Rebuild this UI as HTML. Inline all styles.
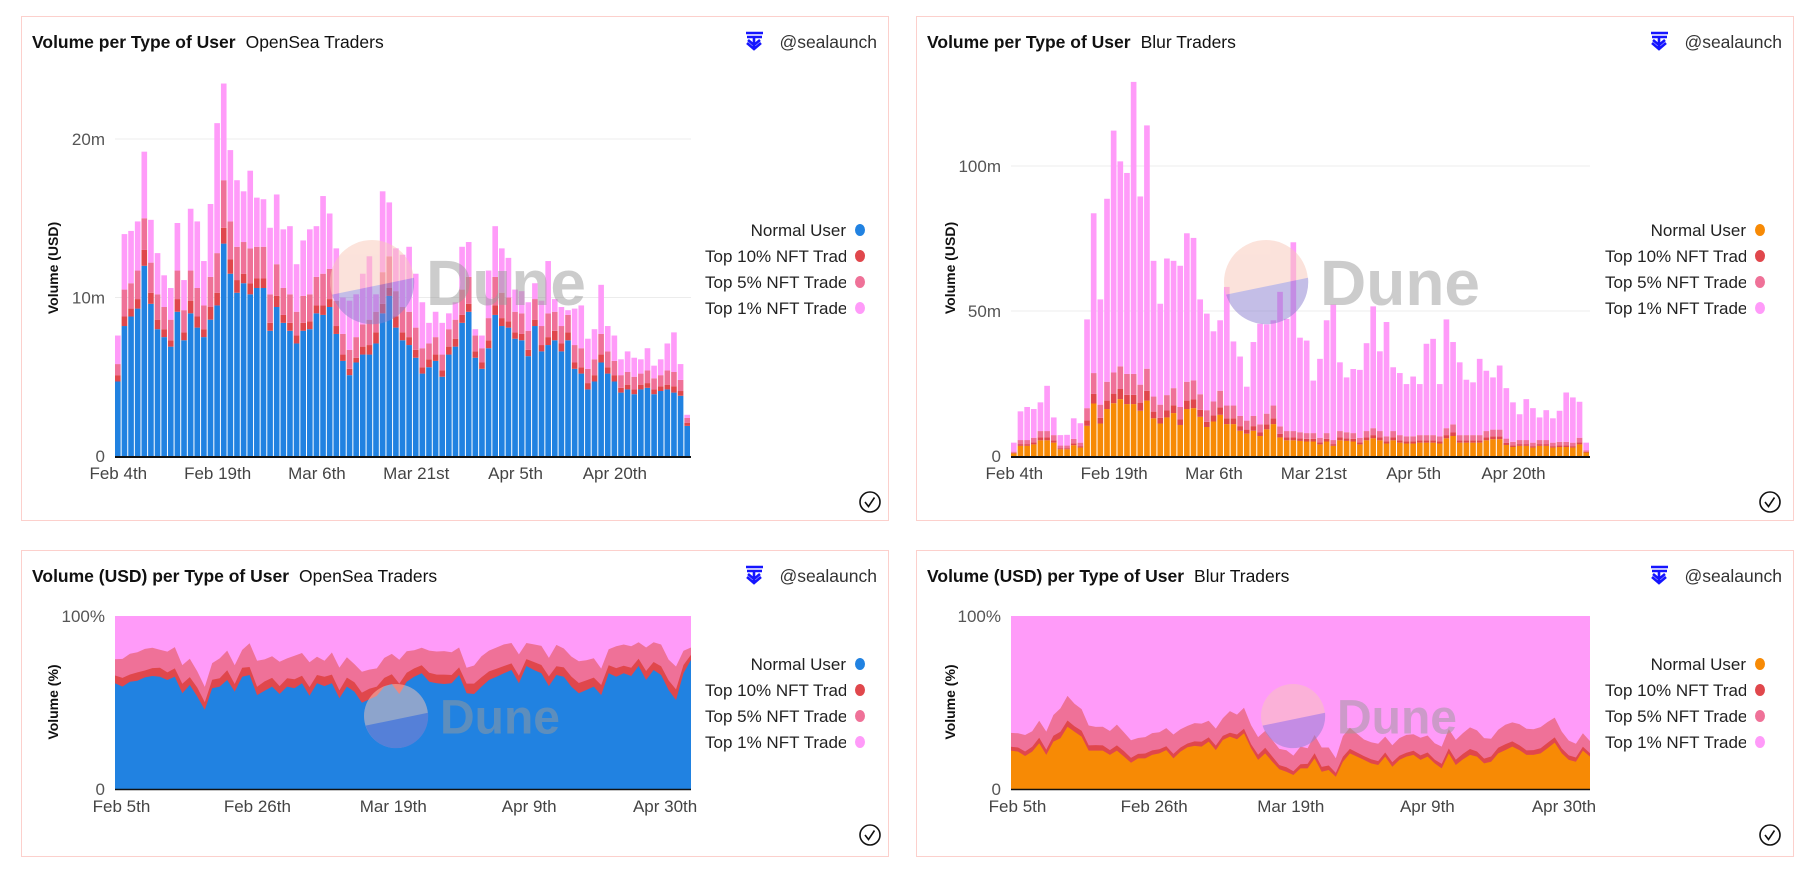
<!DOCTYPE html>
<html><head><meta charset="utf-8">
<style>
html,body{margin:0;padding:0;background:#fff;}
svg{display:block;font-family:"Liberation Sans",sans-serif;}
</style></head>
<body>
<svg id="root" width="1794" height="870" viewBox="0 0 1794 870" xmlns="http://www.w3.org/2000/svg"></svg>
<script>
// ---- Data: OpenSea daily volume (millions USD), Feb 4 onward ----
const osNormal=[4.7,8.2,8.8,9.3,12.0,9.6,8.0,7.5,6.9,9.1,7.3,9.0,8.1,7.5,8.6,9.5,13.4,11.5,10.3,10.9,10.2,10.6,10.6,7.9,9.4,8.4,7.9,7.1,7.9,8.0,9.0,8.9,9.4,7.7,6.0,5.1,5.9,6.4,6.4,7.1,9.0,10.1,8.1,7.3,7.0,6.2,5.2,5.6,6.0,5.0,6.4,6.9,8.4,9.1,6.2,5.5,6.8,8.9,8.2,8.1,7.4,7.3,6.3,8.2,6.6,7.0,7.3,6.6,7.3,5.5,5.2,4.2,4.7,5.9,5.2,4.7,4.0,4.2,3.9,4.2,4.3,3.9,4.1,4.2,4.0,3.8,1.9];
const osTop10=[0.4,0.6,0.5,0.6,1.0,0.7,0.6,0.5,0.4,0.8,0.5,0.8,0.7,0.5,0.8,0.8,1.0,0.9,0.8,0.6,0.7,0.6,0.6,0.5,0.7,0.5,0.5,0.5,0.5,0.5,0.5,0.6,0.5,0.5,0.4,0.4,0.3,0.5,0.6,0.7,0.6,0.5,0.7,0.5,0.5,0.5,0.4,0.5,0.4,0.4,0.5,0.5,0.5,0.5,0.4,0.4,0.5,0.6,0.5,0.4,0.4,0.4,0.4,0.4,0.4,0.5,0.6,0.5,0.5,0.4,0.4,0.4,0.4,0.5,0.4,0.4,0.3,0.3,0.3,0.3,0.3,0.3,0.3,0.3,0.4,0.3,0.2];
const osTop5=[0.7,1.7,1.6,1.8,2.0,1.9,1.6,1.4,1.3,1.8,1.4,1.9,1.8,1.5,1.9,2.5,3.0,2.4,2.1,2.0,2.2,2.0,2.0,1.8,2.0,1.7,1.8,1.5,1.7,1.7,1.8,2.0,1.9,1.6,1.3,1.2,1.3,1.4,1.6,1.3,2.0,2.0,1.6,1.6,1.6,1.4,1.2,1.0,1.1,1.0,1.1,1.2,1.6,1.7,1.0,0.9,1.4,1.8,1.6,1.5,1.3,1.3,1.2,1.3,1.2,1.5,1.2,1.1,1.1,1.1,1.2,0.9,1.0,1.3,1.0,0.9,0.8,0.8,0.8,0.7,0.8,0.7,0.7,0.9,0.9,0.7,0.3];
const osTop1=[1.8,3.5,3.3,3.1,4.2,2.7,2.6,2.0,2.0,3.0,1.9,3.9,4.2,2.8,4.6,8.2,6.1,4.5,4.2,3.2,4.9,3.1,3.0,4.2,4.4,3.7,4.3,3.0,3.5,4.1,3.2,4.9,3.5,3.3,2.3,3.1,2.7,3.2,4.0,1.1,5.1,3.4,2.7,3.3,4.1,3.4,2.9,1.3,1.6,2.0,1.0,1.1,2.7,2.2,0.4,0.8,3.0,3.2,2.8,2.5,1.4,1.4,1.8,1.0,1.6,3.3,0.8,1.2,0.3,2.3,2.7,1.9,1.9,3.1,1.6,1.6,1.0,1.3,1.2,0.9,1.4,0.8,1.0,1.7,2.5,1.0,0.2];
// ---- Data: Blur daily volume (millions USD) ----
const blNormal=[0.9,3.5,3.5,4.0,5.4,5.4,4.6,2.3,2.3,3.7,2.9,10.4,18.1,11.2,16.2,18.2,19.6,17.9,17.9,15.6,19.1,13.0,11.2,13.3,14.8,10.7,16.2,16.5,13.5,10.0,11.9,14.2,11.0,11.0,8.7,7.7,8.7,6.9,9.2,11.0,6.4,5.4,5.4,5.2,5.0,5.0,4.0,5.0,3.5,5.4,5.2,5.0,4.0,5.4,6.1,5.4,4.3,5.4,4.6,4.3,4.3,4.6,4.6,4.6,4.3,6.1,6.9,4.6,4.6,4.6,4.6,5.4,5.8,5.8,3.8,3.1,3.5,3.5,2.9,3.5,3.5,2.9,3.1,3.1,2.9,4.0,1.2];
const blTop10=[0.2,0.6,0.6,0.7,1.0,1.0,0.8,0.4,0.4,0.7,0.5,1.9,3.3,2.0,2.9,3.3,3.5,3.2,3.2,2.8,3.4,2.3,2.0,2.4,2.7,1.9,2.9,3.0,2.4,1.8,2.1,2.6,2.0,2.0,1.6,1.4,1.6,1.2,1.7,2.0,1.2,1.0,1.0,0.9,0.9,0.9,0.7,0.9,0.6,1.0,0.9,0.9,0.7,1.0,1.1,1.0,0.8,1.0,0.8,0.8,0.8,0.8,0.8,0.8,0.8,1.1,1.2,0.8,0.8,0.8,0.8,1.0,1.0,1.0,0.7,0.6,0.6,0.6,0.5,0.6,0.6,0.5,0.6,0.6,0.5,0.7,0.2];
const blTop5=[0.4,1.4,1.4,1.6,2.2,2.2,1.8,0.9,0.9,1.5,1.2,4.2,7.2,4.5,6.5,7.3,7.8,7.2,7.2,6.2,7.6,5.2,4.5,5.3,5.9,4.3,6.5,6.6,5.4,4.0,4.8,5.7,4.4,4.4,3.5,3.1,3.5,2.8,3.7,4.4,2.6,2.2,2.2,2.1,2.0,2.0,1.6,2.0,1.4,2.2,2.1,2.0,1.6,2.2,2.4,2.2,1.7,2.2,1.8,1.7,1.7,1.8,1.8,1.8,1.7,2.4,2.8,1.8,1.8,1.8,1.8,2.2,2.3,2.3,1.5,1.2,1.4,1.4,1.2,1.4,1.4,1.2,1.2,1.2,1.2,1.6,0.5];
const blTop1=[3.1,9.9,11.4,9.9,9.9,15.6,6.1,3.6,3.7,7.1,6.7,30.6,55.1,36.3,63.1,83.4,70.7,69.3,100.7,64.9,83.9,46.8,34.8,47.1,43.9,48.7,51.2,49.1,32.7,33.3,24.2,24.3,40.9,22.1,20.5,11.7,25.5,34.7,30.8,29.4,46.4,38.7,65.1,32.6,31.9,18.1,27.2,38.9,46.7,23.7,18.9,22.1,23.4,30.3,42.0,27.5,39.4,22.0,21.4,18.0,20.6,17.6,31.5,33.2,18.0,37.5,28.4,25.1,19.1,18.2,26.3,20.8,18.0,22.1,17.4,13.6,8.9,14.1,11.9,7.8,10.3,8.4,10.7,17.0,15.6,12.4,2.7];
// ---- Data: OpenSea share (%) ----
const osPctNormal=[61.1,59.2,62.0,62.6,64.5,65.3,64.9,63.0,64.9,55.3,60.1,53.4,45.7,58.2,59.2,63.0,56.3,64.9,65.9,54.3,56.8,59.2,54.9,59.2,58.2,61.1,53.9,61.1,59.5,61.1,52.4,59.2,56.3,49.9,51.8,53.8,59.2,60.7,54.9,62.0,64.9,66.9,62.0,61.1,60.7,61.1,65.9,55.3,54.9,59.2,63.0,64.9,66.9,68.8,61.1,71.1,68.8,66.9,59.5,65.9,64.9,59.2,55.3,57.2,59.2,54.3,66.9,64.9,66.9,65.3,71.1,63.0,68.8,65.9,57.2,51.4,66.9,74.6];
const osPctTop10=[4.5,5.0,4.2,4.8,4.0,4.6,5.2,4.4,4.8,5.5,4.6,5.2,4.4,5.0,4.8,5.6,4.4,5.2,4.6,4.8,5.4,5.0,4.6,4.8,5.2,4.4,5.0,4.8,5.4,5.0,4.6,5.2,5.4,5.8,6.2,5.4,5.0,5.6,6.0,5.2,4.8,4.6,5.2,5.0,5.4,4.8,4.4,5.6,6.0,5.4,5.0,4.6,4.2,3.8,4.4,4.0,4.6,4.8,5.6,5.0,5.4,5.8,6.0,5.6,5.2,5.8,4.6,5.0,4.4,4.8,4.2,5.2,4.6,5.0,5.6,6.2,4.8,3.0];
const osPctTop5=[9.4,11.0,12.0,11.6,12.5,11.8,10.4,12.0,12.3,10.8,10.6,9.4,8.9,9.6,11.5,11.4,10.8,10.3,13.8,15.0,12.7,12.5,14.0,11.5,13.6,13.1,14.4,10.6,9.2,12.8,13.2,11.7,10.5,12.1,11.0,10.5,11.6,11.8,13.8,12.4,10.5,10.2,12.8,13.4,13.6,13.1,11.5,9.2,10.5,12.1,12.0,12.3,12.5,11.8,12.3,9.3,10.2,11.0,10.7,12.4,10.9,11.6,12.5,11.6,11.2,9.5,9.3,12.6,12.2,12.4,9.5,13.6,11.4,12.6,12.0,13.2,8.2,4.2];
// ---- Data: Blur share (%) ----
const blPctNormal=[22.2,21.6,19.1,21.6,26.4,19.7,27.4,29.3,36.0,33.1,30.3,22.2,22.2,22.2,19.7,22.2,18.7,15.2,17.7,17.7,19.7,20.6,22.5,17.7,21.6,24.1,24.9,24.5,27.4,22.5,28.3,30.3,28.7,32.2,23.5,16.8,20.6,15.8,11.4,10.0,8.1,11.9,11.9,17.7,10.0,11.0,7.1,15.8,20.6,18.7,16.8,14.8,13.9,18.7,12.9,16.8,18.7,19.7,16.8,18.7,14.8,11.9,20.6,13.9,17.1,19.7,18.7,14.8,15.8,20.6,22.5,24.5,22.5,19.7,19.7,20.6,23.5,26.8,20.6,16.8,15.8,22.2,18.7];
const blPctTop10=[2.2,2.4,2.6,2.8,3.2,3.0,3.4,3.8,3.6,3.2,3.4,3.0,3.2,3.0,2.8,3.0,3.2,2.8,2.6,2.8,2.6,2.4,2.2,2.6,2.4,2.2,2.6,2.8,2.4,2.6,2.4,2.2,2.8,2.6,2.4,3.0,3.2,3.0,2.4,2.6,2.2,2.4,2.6,3.0,2.8,2.6,2.2,2.8,2.6,2.4,2.2,2.4,2.2,2.4,2.6,2.4,2.2,2.4,2.6,2.4,2.2,2.6,2.8,3.0,3.2,3.4,3.0,2.8,3.0,3.2,3.4,3.0,2.8,2.6,2.8,3.0,3.2,3.0,2.8,2.6,2.4,2.2,2.0];
const blPctTop5=[8.0,8.2,9.5,9.0,9.8,10.5,12.0,13.5,14.2,13.0,12.5,11.5,10.5,10.8,11.0,12.0,10.8,10.2,9.2,9.5,10.0,9.8,10.5,11.2,10.5,10.2,10.6,10.5,9.6,9.8,10.2,12.5,11.5,12.2,11.0,10.2,9.8,9.5,9.4,9.8,9.0,10.2,9.0,10.5,11.2,10.4,8.5,12.0,12.2,10.8,9.6,9.8,10.0,9.2,9.8,10.2,10.4,9.6,10.2,9.8,9.5,10.0,11.2,11.5,12.0,12.5,12.2,11.8,10.2,10.4,11.2,11.0,12.2,12.5,12.0,12.2,12.0,11.5,9.8,8.6,8.0,7.8,7.0];
// ---- Tick labels ----
const barXTicks=["Feb 4th","Feb 19th","Mar 6th","Mar 21st","Apr 5th","Apr 20th"];
const barXTickIdx=[0,15,30,45,60,75];
const pctXTicks=["Feb 5th","Feb 26th","Mar 19th","Apr 9th","Apr 30th"];
const pctXTickDay=[1,22,43,64,85];
const osYTicks=[0,10,20];
const blYTicks=[0,50,100];
const legendNames=["Normal User","Top 10% NFT Traders","Top 5% NFT Traders","Top 1% NFT Traders"];

const NS="http://www.w3.org/2000/svg";
const root=document.getElementById('root');
let clipCounter=0;
function el(tag,attrs,parent){const e=document.createElementNS(NS,tag);for(const k in attrs)e.setAttribute(k,attrs[k]);(parent||root).appendChild(e);return e;}
const C={blue:"#2182e1",orange:"#f78a05",red:"#e0474c",rose:"#ef7198",pink:"#ff9bf9"};

function panel(x,y,w,h,title,sub,name){
  const g=el('g',{});
  
  
  const r=el('rect',{x:x+0.5,y:y+0.5,width:w,height:h,fill:'#fff',stroke:'#fcd0cc','stroke-width':1},g);
  
  const t=el('text',{x:x+11,y:y+32,'font-size':17.5,fill:'#111'},g);
  
  const b=el('tspan',{'font-weight':'bold'},t);b.textContent=title;
  const s=el('tspan',{dx:10},t);s.textContent=sub;
  const ic=el('g',{transform:`translate(${x+w-143},${y+16})`},g);
  
  el('path',{d:'M1 1h17M2 5h15M9 5v12M3 8l6 5 6-5M2 11l7 6 7-6',stroke:'#1515ff','stroke-width':2.6,fill:'none'},ic);
  const at=el('text',{x:x+w-11,y:y+32,'font-size':17.5,fill:'#333','text-anchor':'end'},g);
  
  at.textContent='@sealaunch';
  return g;
}
function check(cx,cy){
  const g=el('g',{});
  
  el('circle',{cx,cy,r:10,fill:'none',stroke:'#111','stroke-width':1.6},g);
  el('path',{d:`M${cx-5} ${cy}l3.5 4.5l6 -9`,fill:'none',stroke:'#111','stroke-width':1.6},g);
}
function legend(textRight,ys,colors){
  ys.forEach((yy,i)=>{
    const g=el('g',{});
    
    const id='lc'+(clipCounter++);
    const cp=el('clipPath',{id},g);
    el('rect',{x:textRight-142,y:yy-16,width:142,height:28},cp);
    const t=el('text',{x:i===0?textRight:textRight-141,y:yy+6,'font-size':17,fill:'#222','text-anchor':i===0?'end':'start','clip-path':`url(#${id})`},g);
    t.textContent=legendNames[i];
    el('ellipse',{cx:textRight+14,cy:yy,rx:5,ry:6,fill:colors[i]},g);
  });
}
function yTitle(x,y,txt){
  const t=el('text',{x,y,'font-size':14,'font-weight':'bold',fill:'#111','text-anchor':'middle',transform:`rotate(-90 ${x} ${y})`});
  
  t.textContent=txt;
}
function watermark(cx,cy,r,fs){
  const g=el('g',{opacity:0.5});
  
  el('circle',{cx,cy,r,fill:'#f9c7b8'},g);
  el('path',{d:`M${cx-r*0.95} ${cy+r*0.3} L${cx+r} ${cy-r*0.1} A${r} ${r} 0 0 1 ${cx-r*0.95} ${cy+r*0.3}Z`,fill:'#8a7fd0'},g);
  const t=el('text',{x:cx+r+12,y:cy+fs*0.36,'font-size':fs,'font-weight':'bold',fill:'#9a9a9a'},g);
  t.textContent='Dune';
}

function barChart(o){
  const {x0,w,y0,ppu,series,colors,yTicks,yFmt,name}=o;
  const g=el('g',{});
  
  const n=series[0].length,bw=w/n;
  const Y=v=>y0-v*ppu;
  yTicks.forEach(v=>{
    if(v>0){const l=el('line',{x1:x0,x2:x0+w,y1:Y(v),y2:Y(v),stroke:'#ececec'},g);}
    const t=el('text',{x:x0-10,y:Y(v)+6,'font-size':17,fill:'#555','text-anchor':'end'},g);
    
    t.textContent=yFmt(v);
  });
  for(let i=0;i<n;i++){
    let acc=0;
    series.forEach((s,k)=>{
      const v=s[i]||0;
      const r=el('rect',{x:x0+i*bw,y:Y(acc+v),width:Math.max(bw-1,1),height:v*ppu,fill:colors[k]},g);
      
      acc+=v;
    });
  }
  const ax=el('line',{x1:x0,x2:x0+w,y1:y0+1,y2:y0+1,stroke:'#111','stroke-width':2},g);
  
  barXTicks.forEach((lab,j)=>{
    const t=el('text',{x:x0+(barXTickIdx[j]+0.5)*bw,y:y0+23,'font-size':17,fill:'#444','text-anchor':'middle'},g);
    
    t.textContent=lab;
  });
}
function pctChart(o){
  const {x0,w,yTop,y0,series,colors,name}=o;
  const g=el('g',{});
  
  const n=series[0].length;
  const X=i=>x0+i*w/(n-1);
  const Y=p=>y0-p/100*(y0-yTop);
  const bg=el('rect',{x:x0,y:yTop,width:w,height:y0-yTop,fill:colors[3]},g);
  
  const cum=[];for(let i=0;i<n;i++)cum.push(0);
  const bounds=[];
  series.forEach(s=>{for(let i=0;i<n;i++)cum[i]+=s[i]||0;bounds.push(cum.slice());});
  const areaNames=['area-normal-user','area-top10','area-top5'];
  for(let k=2;k>=0;k--){
    let d=`M${X(0)} ${y0}`;
    for(let i=0;i<n;i++)d+=` L${X(i).toFixed(1)} ${Y(Math.min(bounds[k][i],100)).toFixed(1)}`;
    d+=` L${X(n-1)} ${y0}Z`;
    const p=el('path',{d,fill:colors[k]},g);
    
  }
  [[100,'100%'],[0,'0']].forEach(([v,lab])=>{
    const t=el('text',{x:x0-10,y:Y(v)+6,'font-size':17,fill:'#555','text-anchor':'end'},g);
    
    t.textContent=lab;
  });
  const ax=el('line',{x1:x0,x2:x0+w,y1:y0+0.5,y2:y0+0.5,stroke:'#111','stroke-width':1.5},g);
  
  const days=89;
  pctXTicks.forEach((lab,j)=>{
    const t=el('text',{x:x0+pctXTickDay[j]*w/days,y:y0+23,'font-size':17,fill:'#444','text-anchor':'middle'},g);
    
    t.textContent=lab;
  });
}

panel(21,16,867,504,'Volume per Type of User','OpenSea Traders','opensea-volume-panel');
panel(916,16,877,504,'Volume per Type of User','Blur Traders','blur-volume-panel');
panel(21,550,867,306,'Volume (USD) per Type of User','OpenSea Traders','opensea-share-panel');
panel(916,550,877,306,'Volume (USD) per Type of User','Blur Traders','blur-share-panel');

barChart({x0:115,w:576,y0:456,ppu:15.85,series:[osNormal,osTop10,osTop5,osTop1],colors:[C.blue,C.red,C.rose,C.pink],yTicks:osYTicks,yFmt:v=>v?v+'m':'0',name:'opensea-bar-chart'});
barChart({x0:1011,w:579,y0:456,ppu:2.9,series:[blNormal,blTop10,blTop5,blTop1],colors:[C.orange,C.red,C.rose,C.pink],yTicks:blYTicks,yFmt:v=>v?v+'m':'0',name:'blur-bar-chart'});
pctChart({x0:115,w:576,yTop:616,y0:789,series:[osPctNormal,osPctTop10,osPctTop5],colors:[C.blue,C.red,C.rose,C.pink],name:'opensea-share-chart'});
pctChart({x0:1011,w:579,yTop:616,y0:789,series:[blPctNormal,blPctTop10,blPctTop5],colors:[C.orange,C.red,C.rose,C.pink],name:'blur-share-chart'});

watermark(372,282,42,64);
watermark(1266,282,42,64);
watermark(396,716,32,48);
watermark(1293,716,32,48);

yTitle(58,268,'Volume (USD)');
yTitle(955,268,'Volume (USD)');
yTitle(58,702,'Volume (%)');
yTitle(955,702,'Volume (%)');

legend(846,[230,256,282,308],[C.blue,C.red,C.rose,C.pink]);
legend(1746,[230,256,282,308],[C.orange,C.red,C.rose,C.pink]);
legend(846,[664,690,716,742],[C.blue,C.red,C.rose,C.pink]);
legend(1746,[664,690,716,742],[C.orange,C.red,C.rose,C.pink]);

check(870,502);check(1770,502);check(870,835);check(1770,835);
</script>
</body></html>
